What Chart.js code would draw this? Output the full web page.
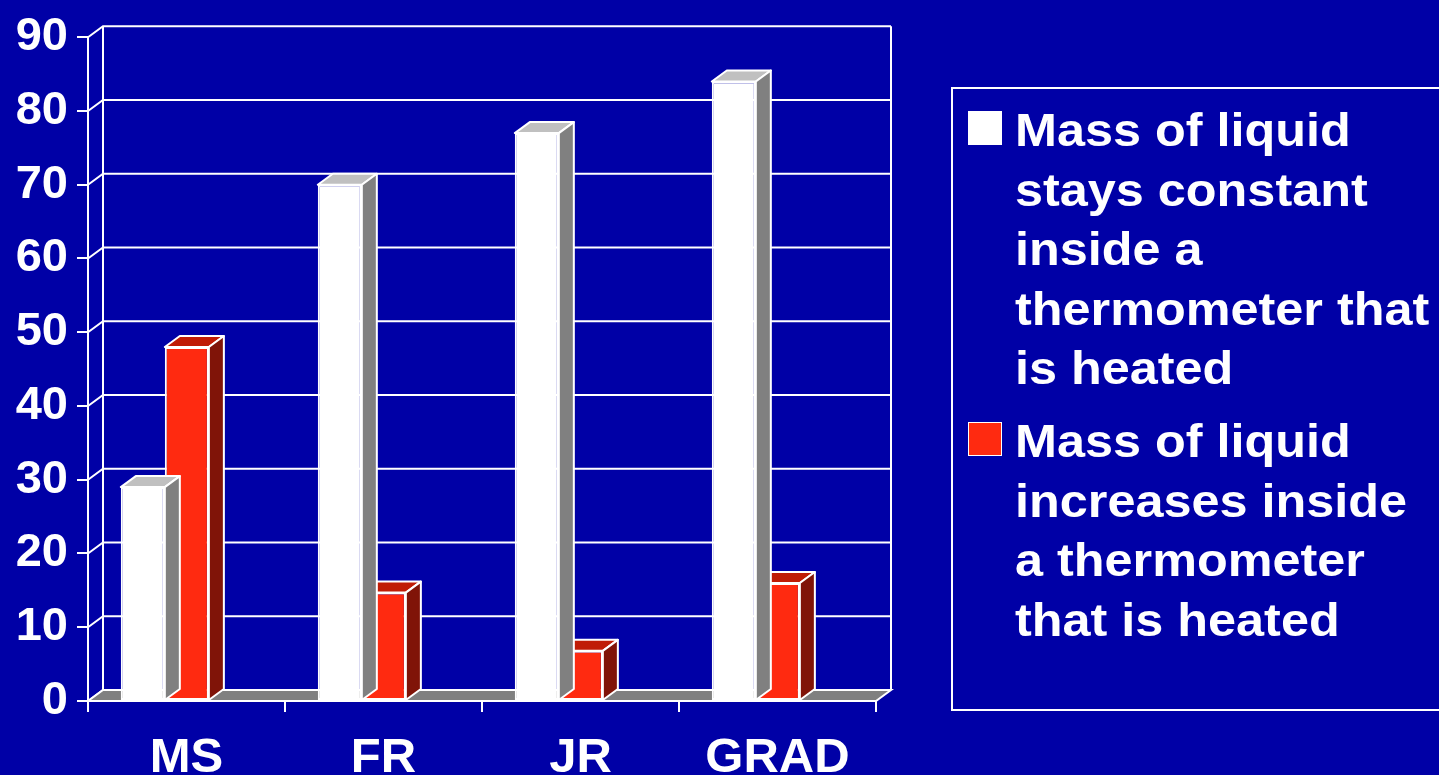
<!DOCTYPE html>
<html>
<head>
<meta charset="utf-8">
<script src="https://cdn.jsdelivr.net/npm/chart.js@4/dist/chart.umd.min.js"></script>
<style>
  html, body { margin: 0; padding: 0; background: #0000A6; overflow: hidden; }
  #wrap { position: relative; width: 1439px; height: 775px; }
  #chart { position: absolute; left: 0; top: 0; }
  #legend {
    position: absolute; left: 951px; top: 87px; width: 520px; height: 624px;
    box-sizing: border-box; border: 2px solid #ffffff; padding-top: 12px;
    font-family: "Liberation Sans", Arial, sans-serif; font-weight: bold;
    font-size: 46px; line-height: 59.5px; color: #ffffff;
  }
  .item { position: relative; margin-bottom: 13.5px; }
  .swatch { position: absolute; left: 15px; top: 10px; width: 34px; height: 34px; box-sizing: border-box; border: 1px solid #ffffff; }
  .text { margin-left: 62px; transform: scaleX(1.095); transform-origin: left top; white-space: nowrap; }
</style>
</head>
<body>
<div id="wrap">
  <canvas id="chart" width="1439" height="775"></canvas>
  <div id="legend"></div>
</div>
<script>
// Survey groups and the share (%) giving each answer
const categories = ['MS', 'FR', 'JR', 'GRAD'];
const staysConstant = [29, 70, 77, 84];
const increases = [48, 14.7, 6.8, 16];
const seriesLabels = [
  ['Mass of liquid', 'stays constant', 'inside a', 'thermometer that', 'is heated'],
  ['Mass of liquid', 'increases inside', 'a thermometer', 'that is heated']
];
const yMin = 0, yMax = 90, yStep = 10;

// Face colours: front / top / side of each bar series
const faces = [
  { front: '#FFFFFF', top: '#C0C0C0', side: '#808080' },
  { front: '#FF2A10', top: '#C01C06', side: '#801408' }
];
const DEPTH_X = 15, DEPTH_Y = 11;
const LINE = '#FFFFFF';

Chart.defaults.font.family = '"Liberation Sans", Arial, sans-serif';
Chart.defaults.font.weight = 'bold';
Chart.defaults.color = '#FFFFFF';

function poly(ctx, pts, fill) {
  ctx.beginPath();
  ctx.moveTo(pts[0][0], pts[0][1]);
  for (let i = 1; i < pts.length; i++) ctx.lineTo(pts[i][0], pts[i][1]);
  ctx.closePath();
  ctx.fillStyle = fill;
  ctx.fill();
  ctx.stroke();
}

// Back wall, gridlines and floor of the 3D frame
const wallPlugin = {
  id: 'wall',
  beforeDatasetsDraw(chart) {
    const { ctx, chartArea: a, scales: { y } } = chart;
    ctx.save();
    ctx.strokeStyle = LINE;
    ctx.lineWidth = 2;
    const top = y.getPixelForValue(yMax), bottom = y.getPixelForValue(yMin);
    ctx.beginPath();
    for (let v = yMin; v <= yMax; v += yStep) {
      const py = y.getPixelForValue(v);
      ctx.moveTo(a.left, py);
      ctx.lineTo(a.left + DEPTH_X, py - DEPTH_Y);
      ctx.lineTo(a.right + DEPTH_X, py - DEPTH_Y);
    }
    ctx.moveTo(a.left + DEPTH_X, top - DEPTH_Y);
    ctx.lineTo(a.left + DEPTH_X, bottom - DEPTH_Y);
    ctx.moveTo(a.right + DEPTH_X, top - DEPTH_Y);
    ctx.lineTo(a.right + DEPTH_X, bottom - DEPTH_Y);
    ctx.stroke();
    poly(ctx, [[a.left, bottom], [a.left + DEPTH_X, bottom - DEPTH_Y],
               [a.right + DEPTH_X, bottom - DEPTH_Y], [a.right, bottom]], '#808080');
    ctx.restore();
  },
  // top and side faces of every bar, under its front face
  beforeDatasetDraw(chart, args) {
    const { ctx } = chart;
    const f = faces[args.index];
    const meta = chart.getDatasetMeta(args.index);
    ctx.save();
    ctx.strokeStyle = LINE;
    ctx.lineWidth = 2;
    ctx.lineJoin = 'round';
    meta.data.forEach(bar => {
      const { x, y, base, width } = bar.getProps(['x', 'y', 'base', 'width'], true);
      const L = x - width / 2, R = x + width / 2;
      poly(ctx, [[L, y], [L + DEPTH_X, y - DEPTH_Y], [R + DEPTH_X, y - DEPTH_Y], [R, y]], f.top);
      poly(ctx, [[R, y], [R + DEPTH_X, y - DEPTH_Y], [R + DEPTH_X, base - DEPTH_Y], [R, base]], f.side);
    });
    ctx.restore();
  }
};

const toPoints = arr => arr.map((v, i) => ({ x: i, y: v }));

const chart = new Chart(document.getElementById('chart'), {
  type: 'bar',
  data: {
    labels: categories,
    datasets: [
      { label: seriesLabels[0].join(' '), data: toPoints(staysConstant), xAxisID: 'xb',
        backgroundColor: faces[0].front, borderColor: LINE, borderWidth: 2, borderSkipped: false },
      { label: seriesLabels[1].join(' '), data: toPoints(increases), xAxisID: 'xb',
        backgroundColor: faces[1].front, borderColor: LINE, borderWidth: 2, borderSkipped: false }
    ]
  },
  options: {
    responsive: false,
    animation: false,
    events: [],
    layout: { padding: { top: 34, right: 563, bottom: 0, left: 0 } },
    datasets: { bar: { categoryPercentage: 0.447, barPercentage: 1.0 } },
    plugins: { legend: { display: false }, tooltip: { enabled: false } },
    scales: {
      x: {
        type: 'category',
        position: 'bottom',
        offset: true,
        afterFit(scale) { scale.height = 74; },
        grid: { offset: true, drawOnChartArea: false, color: LINE, lineWidth: 2, tickLength: 11 },
        border: { display: true, color: LINE, width: 2 },
        ticks: { font: { size: 49, weight: 'bold' }, color: '#FFFFFF', padding: 17, maxRotation: 0, autoSkip: false }
      },
      xb: {
        type: 'linear',
        display: false,
        offset: false,
        min: -0.39,
        max: 3.61,
        ticks: { stepSize: 1, includeBounds: false }
      },
      y: {
        min: yMin,
        max: yMax,
        afterFit(scale) { scale.width = 88; },
        grid: { drawOnChartArea: false, color: LINE, lineWidth: 2, tickLength: 11 },
        border: { display: true, color: LINE, width: 2 },
        ticks: { stepSize: yStep, font: { size: 47, weight: 'bold' }, color: '#FFFFFF', padding: 9 }
      }
    }
  },
  plugins: [wallPlugin]
});

// Legend built from the chart's own legend items
const legendEl = document.getElementById('legend');
Chart.defaults.plugins.legend.labels.generateLabels(chart).forEach(item => {
  const row = document.createElement('div');
  row.className = 'item';
  const sw = document.createElement('div');
  sw.className = 'swatch';
  sw.style.background = item.fillStyle;
  const tx = document.createElement('div');
  tx.className = 'text';
  seriesLabels[item.datasetIndex].forEach(line => {
    const d = document.createElement('div');
    d.textContent = line;
    tx.appendChild(d);
  });
  row.appendChild(sw);
  row.appendChild(tx);
  legendEl.appendChild(row);
});
</script>
</body>
</html>
